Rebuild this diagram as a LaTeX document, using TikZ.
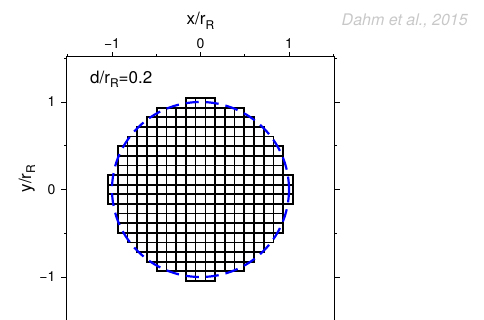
\documentclass[tikz,border=0pt]{standalone}
\usepackage{fontspec}
\setmainfont{TeX Gyre Heros}
\definecolor{creditgray}{RGB}{200,200,200}
\newcommand{\rR}{r\raisebox{-0.45ex}{\fontsize{12}{12}\selectfont R}}
\begin{document}
\begin{tikzpicture}[x=88.5pt, y=87.5pt, line join=miter, font=\fontsize{17}{20}\selectfont]
	\tikzset{tick label/.style={font=\fontsize{14}{16}\selectfont}, cell/.style={draw=black, line width=1.7pt}}
	\useasboundingbox (-2.2655,-1.4914) rectangle (3.2034,2.1657);
	\clip (-2.2655,-1.4914) rectangle (3.2034,2.1657);
	\foreach \i in {-9,...,9}
		\foreach \j in {-9,...,9}{
			\pgfmathtruncatemacro{\rr}{\i*\i+\j*\j}
			\ifnum\rr<83 \draw[cell] ({(\i-0.5)*0.11},{(\j-0.5)*0.11}) rectangle ++(0.11,0.11); \fi
		}
	\draw[blue, line width=2.2pt, dash pattern=on 13pt off 7pt] (0,0) circle[radius=1];
	\draw[line width=1.1pt] (-1.515,-1.6) -- (-1.515,1.515) -- (1.515,1.515) -- (1.515,-1.6);
	\foreach \t in {-1,0,1}{
		\draw[line width=0.9pt] (\t,1.515) -- ++(0,5pt);
		\draw[line width=0.9pt] (-1.515,\t) -- ++(-5pt,0);
		\draw[line width=0.9pt] (1.515,\t) -- ++(5pt,0);
	}
	\foreach \t in {-1.5,-0.5,0.5,1.5}{
		\draw[line width=0.9pt] (\t,1.515) -- ++(0,2.5pt);
		\draw[line width=0.9pt] (-1.515,\t) -- ++(-2.5pt,0);
		\draw[line width=0.9pt] (1.515,\t) -- ++(2.5pt,0);
	}
	\foreach \t/\s in {-1/−1,0/0,1/1}{
		\node[tick label, anchor=base] (xt\t) at (\t,1.614) {\s};
		\node[tick label, anchor=east] (yt\t) at (-1.6,\t) {\s};
	}
	\node[anchor=base] (xlabel) at (0,1.88) {x/\rR};
	\node[rotate=90] (ylabel) at (-1.96,0.126) {y/\rR};
	\node[anchor=base west] (ratio) at (-1.286,1.214) {d/\rR=0.2};
	\node[anchor=base east, text=creditgray, font=\fontsize{16}{18}\selectfont\itshape] (credit) at (3.06,1.869) {Dahm et al., 2015};
\end{tikzpicture}
\end{document}
